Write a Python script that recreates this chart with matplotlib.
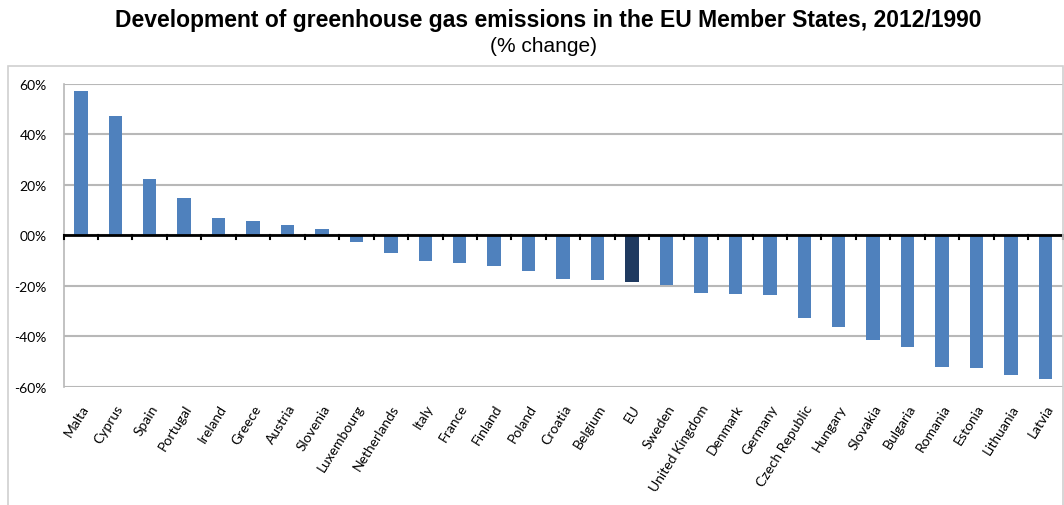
import matplotlib.pyplot as plt
from matplotlib.patches import Rectangle

countries = ["Malta", "Cyprus", "Spain", "Portugal", "Ireland", "Greece", "Austria",
             "Slovenia", "Luxembourg", "Netherlands", "Italy", "France", "Finland",
             "Poland", "Croatia", "Belgium", "EU", "Sweden", "United Kingdom", "Denmark",
             "Germany", "Czech Republic", "Hungary", "Slovakia", "Bulgaria", "Romania",
             "Estonia", "Lithuania", "Latvia"]
change = [57.1, 47.4, 22.4, 14.8, 7.0, 5.8, 4.1, 2.5, -2.7, -7.0, -10.3, -10.8, -12.1,
          -14.3, -17.5, -17.8, -18.3, -19.5, -22.8, -23.3, -23.6, -32.8, -36.4, -41.3,
          -44.1, -52.0, -52.6, -55.5, -57.0]
yticks = [-60, -40, -20, 0, 20, 40, 60]
ytick_labels = ["-60%", "-40%", "-20%", "00%", "20%", "40%", "60%"]

W, H = 1064, 506
fig = plt.figure(figsize=(W / 100, H / 100), dpi=100)
fig.patches.append(Rectangle((8 / W, -0.01), 1055 / W, 1 - 67 / H + 0.01,
                             transform=fig.transFigure, fill=False,
                             edgecolor="#d0d0d0", linewidth=1.2))

ax = fig.add_axes([63.6 / W, 1 - 387.7 / H, 999 / W, (387.7 - 85) / H])
colors = ["#1f3a60" if c == "EU" else "#4f81bd" for c in countries]
x = list(range(len(countries)))
ax.bar(x, change, width=0.39, color=colors, zorder=3)

ax.set_xlim(-0.5, len(countries) - 0.5)
ax.set_ylim(-60, 60)
ax.set_yticks(yticks)
ax.set_yticklabels(ytick_labels, fontsize=10, family="Lato")
ax.yaxis.grid(True, color="#b8b8b8", linewidth=1.5, zorder=0)
ax.tick_params(axis="y", length=0, pad=12)

for s in ["top", "right", "bottom"]:
    ax.spines[s].set_visible(False)
ax.spines["left"].set_color("#b8b8b8")
ax.spines["left"].set_linewidth(1.2)

ax.axhline(0, color="black", linewidth=2, zorder=4)
for b in range(len(countries) + 1):
    ax.plot([b - 0.5, b - 0.5], [0, -1.6], color="black", linewidth=1.5,
            zorder=4, clip_on=False)

ax.set_xticks(x)
ax.set_xticklabels(countries, rotation=58, ha="right", rotation_mode="anchor",
                   fontsize=10, family="Lato")
ax.tick_params(axis="x", length=0, pad=11)

fig.text(548 / W, 1 - 20 / H, "Development of greenhouse gas emissions in the EU Member States, 2012/1990",
         ha="center", va="center", fontsize=16.5, fontweight="bold", family="Liberation Sans")
fig.text(543 / W, 1 - 47 / H, "(% change)", ha="center", va="center", fontsize=15,
         family="Liberation Sans")

fig.savefig("out.png", dpi=100)
